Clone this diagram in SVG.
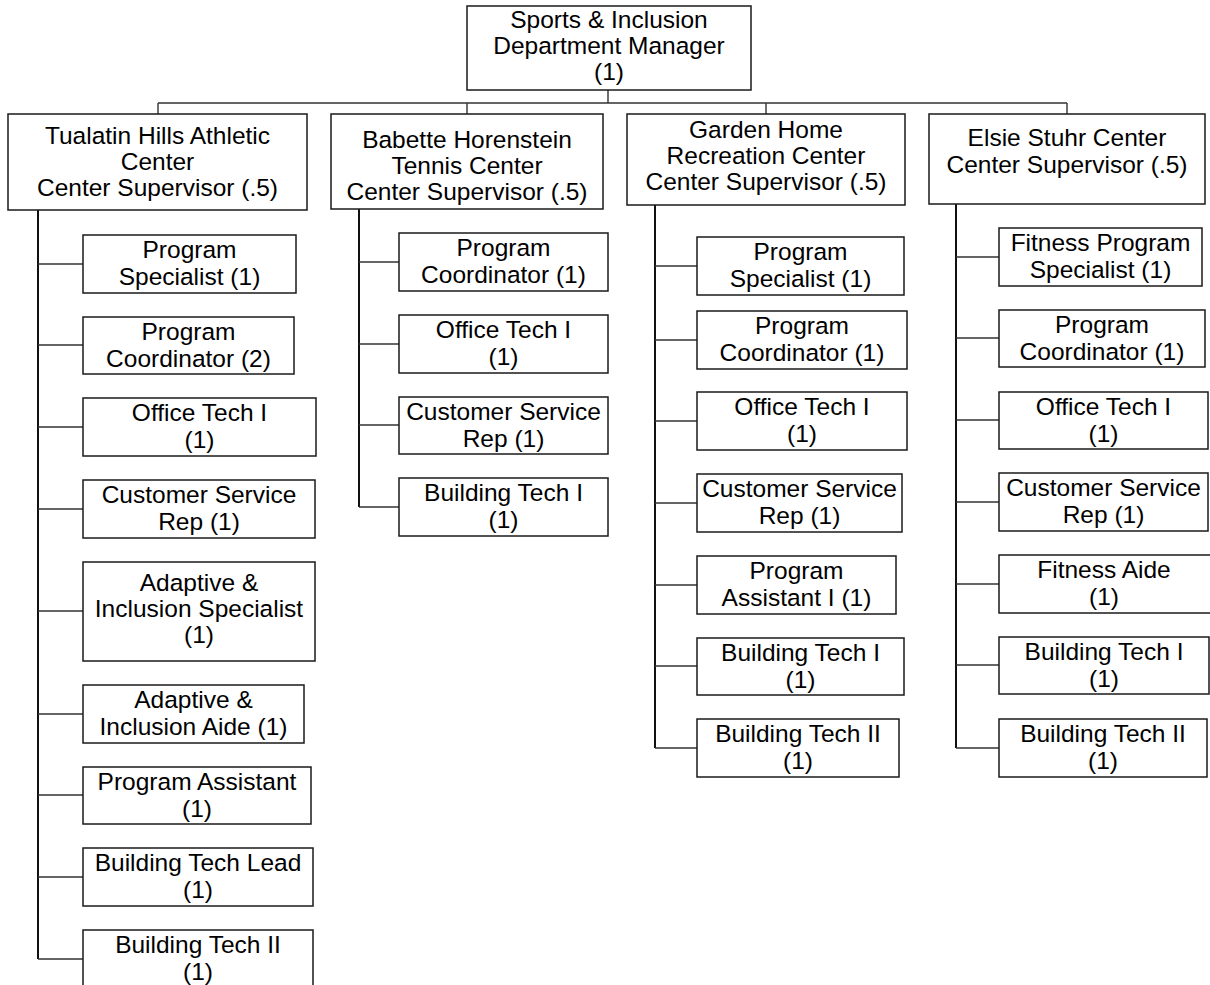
<svg xmlns="http://www.w3.org/2000/svg" width="1210" height="985" viewBox="0 0 1210 985">
  <style>
    .box { fill: #ffffff; stroke: #1a1a1a; stroke-width: 1.5; }
    .lbl { font-family: "Liberation Sans", Arial, sans-serif; font-size: 24.5px; fill: #000000; text-anchor: middle; }
    .trunk { fill: none; stroke: #111111; stroke-width: 2; }
    .branch { fill: none; stroke: #333333; stroke-width: 1.4; }
  </style>
  <rect x="0" y="0" width="1210" height="985" fill="#ffffff"/>

  <!-- connectors -->
  <g id="connectors">
    <!-- manager to centers -->
    <path class="branch" d="M608,90 V103 M158,103 H1067 M158,103 V114 M467,103 V114 M766,103 V114 M1067,103 V114"/>
    <!-- Tualatin Hills Athletic Center -->
    <path class="trunk" d="M38,210 V959"/>
    <path class="branch" d="M38,264 H83 M38,345 H83 M38,427 H83 M38,509 H83 M38,611 H83 M38,714 H83 M38,795 H83 M38,877 H83 M38,959 H83"/>
    <!-- Babette Horenstein Tennis Center -->
    <path class="trunk" d="M359,209 V507"/>
    <path class="branch" d="M359,262 H399 M359,344 H399 M359,425 H399 M359,507 H399"/>
    <!-- Garden Home Recreation Center -->
    <path class="trunk" d="M655,205 V748"/>
    <path class="branch" d="M655,266 H697 M655,340 H697 M655,421 H697 M655,503 H697 M655,585 H697 M655,666 H697 M655,748 H697"/>
    <!-- Elsie Stuhr Center -->
    <path class="trunk" d="M956,204 V748"/>
    <path class="branch" d="M956,257 H999 M956,338 H999 M956,420 H999 M956,502 H999 M956,584 H999 M956,665 H999 M956,748 H999"/>
  </g>

  <!-- manager -->
  <g id="manager">
    <rect class="box" x="467" y="6" width="284" height="84"/>
    <text class="lbl" x="609" y="28">Sports &amp; Inclusion</text>
    <text class="lbl" x="609" y="54">Department Manager</text>
    <text class="lbl" x="609" y="80">(1)</text>
  </g>

  <!-- center supervisors -->
  <g id="tualatin-supervisor">
    <rect class="box" x="8" y="114" width="299" height="96"/>
    <text class="lbl" x="157.5" y="144">Tualatin Hills Athletic</text>
    <text class="lbl" x="157.5" y="170">Center</text>
    <text class="lbl" x="157.5" y="196">Center Supervisor (.5)</text>
  </g>
  <g id="babette-supervisor">
    <rect class="box" x="331" y="114" width="272" height="95"/>
    <text class="lbl" x="467" y="148">Babette Horenstein</text>
    <text class="lbl" x="467" y="174">Tennis Center</text>
    <text class="lbl" x="467" y="200">Center Supervisor (.5)</text>
  </g>
  <g id="garden-supervisor">
    <rect class="box" x="627" y="114" width="278" height="91"/>
    <text class="lbl" x="766" y="138">Garden Home</text>
    <text class="lbl" x="766" y="164">Recreation Center</text>
    <text class="lbl" x="766" y="190">Center Supervisor (.5)</text>
  </g>
  <g id="elsie-supervisor">
    <rect class="box" x="929" y="114" width="276" height="90"/>
    <text class="lbl" x="1067" y="146">Elsie Stuhr Center</text>
    <text class="lbl" x="1067" y="173">Center Supervisor (.5)</text>
  </g>

  <!-- Tualatin Hills Athletic Center staff -->
  <g id="tha-program-specialist">
    <rect class="box" x="83" y="235" width="213" height="58"/>
    <text class="lbl" x="189.5" y="258">Program</text>
    <text class="lbl" x="189.5" y="285">Specialist (1)</text>
  </g>
  <g id="tha-program-coordinator">
    <rect class="box" x="83" y="317" width="211" height="57"/>
    <text class="lbl" x="188.5" y="340">Program</text>
    <text class="lbl" x="188.5" y="367">Coordinator (2)</text>
  </g>
  <g id="tha-office-tech">
    <rect class="box" x="83" y="398" width="233" height="58"/>
    <text class="lbl" x="199.5" y="421">Office Tech I</text>
    <text class="lbl" x="199.5" y="448">(1)</text>
  </g>
  <g id="tha-customer-service">
    <rect class="box" x="83" y="480" width="232" height="58"/>
    <text class="lbl" x="199" y="503">Customer Service</text>
    <text class="lbl" x="199" y="530">Rep (1)</text>
  </g>
  <g id="tha-adaptive-specialist">
    <rect class="box" x="83" y="562" width="232" height="99"/>
    <text class="lbl" x="199" y="591">Adaptive &amp;</text>
    <text class="lbl" x="199" y="617">Inclusion Specialist</text>
    <text class="lbl" x="199" y="643">(1)</text>
  </g>
  <g id="tha-adaptive-aide">
    <rect class="box" x="83" y="685" width="221" height="58"/>
    <text class="lbl" x="193.5" y="708">Adaptive &amp;</text>
    <text class="lbl" x="193.5" y="735">Inclusion Aide (1)</text>
  </g>
  <g id="tha-program-assistant">
    <rect class="box" x="83" y="767" width="228" height="57"/>
    <text class="lbl" x="197" y="790">Program Assistant</text>
    <text class="lbl" x="197" y="817">(1)</text>
  </g>
  <g id="tha-building-lead">
    <rect class="box" x="83" y="848" width="230" height="58"/>
    <text class="lbl" x="198" y="871">Building Tech Lead</text>
    <text class="lbl" x="198" y="898">(1)</text>
  </g>
  <g id="tha-building-tech-2">
    <rect class="box" x="83" y="930" width="230" height="60"/>
    <text class="lbl" x="198" y="953">Building Tech II</text>
    <text class="lbl" x="198" y="980">(1)</text>
  </g>

  <!-- Babette Horenstein Tennis Center staff -->
  <g id="bht-program-coordinator">
    <rect class="box" x="399" y="233" width="209" height="58"/>
    <text class="lbl" x="503.5" y="256">Program</text>
    <text class="lbl" x="503.5" y="283">Coordinator (1)</text>
  </g>
  <g id="bht-office-tech">
    <rect class="box" x="399" y="315" width="209" height="58"/>
    <text class="lbl" x="503.5" y="338">Office Tech I</text>
    <text class="lbl" x="503.5" y="365">(1)</text>
  </g>
  <g id="bht-customer-service">
    <rect class="box" x="399" y="397" width="209" height="57"/>
    <text class="lbl" x="503.5" y="420">Customer Service</text>
    <text class="lbl" x="503.5" y="447">Rep (1)</text>
  </g>
  <g id="bht-building-tech-1">
    <rect class="box" x="399" y="478" width="209" height="58"/>
    <text class="lbl" x="503.5" y="501">Building Tech I</text>
    <text class="lbl" x="503.5" y="528">(1)</text>
  </g>

  <!-- Garden Home Recreation Center staff -->
  <g id="ghr-program-specialist">
    <rect class="box" x="697" y="237" width="207" height="58"/>
    <text class="lbl" x="800.5" y="260">Program</text>
    <text class="lbl" x="800.5" y="287">Specialist (1)</text>
  </g>
  <g id="ghr-program-coordinator">
    <rect class="box" x="697" y="311" width="210" height="58"/>
    <text class="lbl" x="802" y="334">Program</text>
    <text class="lbl" x="802" y="361">Coordinator (1)</text>
  </g>
  <g id="ghr-office-tech">
    <rect class="box" x="697" y="392" width="210" height="58"/>
    <text class="lbl" x="802" y="415">Office Tech I</text>
    <text class="lbl" x="802" y="442">(1)</text>
  </g>
  <g id="ghr-customer-service">
    <rect class="box" x="697" y="474" width="205" height="58"/>
    <text class="lbl" x="799.5" y="497">Customer Service</text>
    <text class="lbl" x="799.5" y="524">Rep (1)</text>
  </g>
  <g id="ghr-program-assistant">
    <rect class="box" x="697" y="556" width="199" height="58"/>
    <text class="lbl" x="796.5" y="579">Program</text>
    <text class="lbl" x="796.5" y="606">Assistant I (1)</text>
  </g>
  <g id="ghr-building-tech-1">
    <rect class="box" x="697" y="638" width="207" height="57"/>
    <text class="lbl" x="800.5" y="661">Building Tech I</text>
    <text class="lbl" x="800.5" y="688">(1)</text>
  </g>
  <g id="ghr-building-tech-2">
    <rect class="box" x="697" y="719" width="202" height="58"/>
    <text class="lbl" x="798" y="742">Building Tech II</text>
    <text class="lbl" x="798" y="769">(1)</text>
  </g>

  <!-- Elsie Stuhr Center staff -->
  <g id="esc-fitness-specialist">
    <rect class="box" x="999" y="228" width="203" height="58"/>
    <text class="lbl" x="1100.5" y="251">Fitness Program</text>
    <text class="lbl" x="1100.5" y="278">Specialist (1)</text>
  </g>
  <g id="esc-program-coordinator">
    <rect class="box" x="999" y="310" width="206" height="57"/>
    <text class="lbl" x="1102" y="333">Program</text>
    <text class="lbl" x="1102" y="360">Coordinator (1)</text>
  </g>
  <g id="esc-office-tech">
    <rect class="box" x="999" y="392" width="209" height="57"/>
    <text class="lbl" x="1103.5" y="415">Office Tech I</text>
    <text class="lbl" x="1103.5" y="442">(1)</text>
  </g>
  <g id="esc-customer-service">
    <rect class="box" x="999" y="473" width="209" height="58"/>
    <text class="lbl" x="1103.5" y="496">Customer Service</text>
    <text class="lbl" x="1103.5" y="523">Rep (1)</text>
  </g>
  <g id="esc-fitness-aide">
    <rect class="box" x="999" y="555" width="213" height="58"/>
    <text class="lbl" x="1104" y="578">Fitness Aide</text>
    <text class="lbl" x="1104" y="605">(1)</text>
  </g>
  <g id="esc-building-tech-1">
    <rect class="box" x="999" y="637" width="210" height="57"/>
    <text class="lbl" x="1104" y="660">Building Tech I</text>
    <text class="lbl" x="1104" y="687">(1)</text>
  </g>
  <g id="esc-building-tech-2">
    <rect class="box" x="999" y="719" width="208" height="58"/>
    <text class="lbl" x="1103" y="742">Building Tech II</text>
    <text class="lbl" x="1103" y="769">(1)</text>
  </g>
</svg>
